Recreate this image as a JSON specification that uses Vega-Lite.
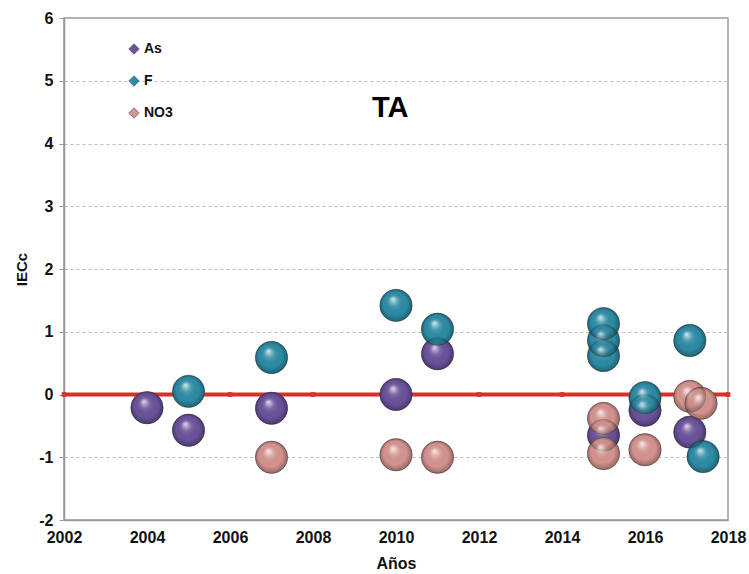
{
  "$schema": "https://vega.github.io/schema/vega-lite/v6.json",
  "width": 664,
  "height": 502,
  "autosize": {"type": "none"},
  "padding": {"left": 64, "top": 18, "right": 21, "bottom": 54},
  "background": "white",
  "config": {
    "view": {"stroke": "#999999", "strokeWidth": 1.5},
    "font": "Liberation Sans"
  },
  "datasets": {
    "pts": [
      {"year": 2004, "value": -0.21, "param": "As"},
      {"year": 2005, "value": -0.57, "param": "As"},
      {"year": 2007, "value": -0.22, "param": "As"},
      {"year": 2010, "value": 0.0, "param": "As"},
      {"year": 2011, "value": 0.65, "param": "As"},
      {"year": 2015, "value": -0.65, "param": "As"},
      {"year": 2016, "value": -0.25, "param": "As"},
      {"year": 2017.08, "value": -0.6, "param": "As"},
      {"year": 2005, "value": 0.05, "param": "F"},
      {"year": 2007, "value": 0.59, "param": "F"},
      {"year": 2010, "value": 1.42, "param": "F"},
      {"year": 2011, "value": 1.04, "param": "F"},
      {"year": 2015, "value": 0.62, "param": "F"},
      {"year": 2015, "value": 0.86, "param": "F"},
      {"year": 2015, "value": 1.13, "param": "F"},
      {"year": 2016, "value": -0.05, "param": "F"},
      {"year": 2017.08, "value": 0.86, "param": "F"},
      {"year": 2017.4, "value": -0.99, "param": "F"},
      {"year": 2007, "value": -1.0, "param": "NO3"},
      {"year": 2010, "value": -0.96, "param": "NO3"},
      {"year": 2011, "value": -1.0, "param": "NO3"},
      {"year": 2015, "value": -0.94, "param": "NO3"},
      {"year": 2015, "value": -0.38, "param": "NO3"},
      {"year": 2016, "value": -0.88, "param": "NO3"},
      {"year": 2017.08, "value": -0.03, "param": "NO3"},
      {"year": 2017.35, "value": -0.14, "param": "NO3"}
    ],
    "ref": [
      {"year": 2002, "value": 0},
      {"year": 2004, "value": 0},
      {"year": 2006, "value": 0},
      {"year": 2008, "value": 0},
      {"year": 2010, "value": 0},
      {"year": 2012, "value": 0},
      {"year": 2014, "value": 0},
      {"year": 2016, "value": 0},
      {"year": 2018, "value": 0}
    ],
    "title": [{"year": 2009.86, "value": 4.56, "label": "TA"}]
  },
  "layer": [
    {
      "data": {"name": "ref"},
      "mark": {"type": "line", "color": "#d8312a", "strokeWidth": 4, "clip": false},
      "encoding": {
        "x": {"field": "year", "type": "quantitative", "scale": {"domain": [2002, 2018], "nice": false, "zero": false},
          "axis": {"values": [2002, 2004, 2006, 2008, 2010, 2012, 2014, 2016, 2018], "format": "d", "title": "Años",
            "grid": false, "ticks": false, "domainColor": "#999999", "domainWidth": 1.5, "labelFlush": false, "labelOverlap": false,
            "labelFont": "Liberation Sans Narrow, Liberation Sans", "labelFontWeight": "bold", "labelFontSize": 16, "labelColor": "#111111", "labelPadding": 9,
            "titleFont": "Liberation Sans Narrow, Liberation Sans", "titleFontWeight": "bold", "titleFontSize": 16, "titleColor": "#111111", "titlePadding": 10}},
        "y": {"field": "value", "type": "quantitative", "scale": {"domain": [-2, 6], "nice": false},
          "axis": {"values": [-2, -1, 0, 1, 2, 3, 4, 5, 6], "labelExpr": "datum.value < 0 ? '-' + abs(datum.value) : '' + datum.value", "title": "IECc",
            "grid": true, "gridDash": [3, 3], "gridColor": "#bbbbbb", "gridWidth": 1,
            "tickColor": "#999999", "tickSize": 5, "domainColor": "#999999", "domainWidth": 1.5, "labelFlush": false, "labelOverlap": false,
            "labelFont": "Liberation Sans", "labelFontWeight": "bold", "labelFontSize": 16, "labelColor": "#111111", "labelPadding": 6,
            "titleFont": "Liberation Sans", "titleFontWeight": "bold", "titleFontSize": 15, "titleColor": "#111111", "titlePadding": 9}}
      }
    },
    {
      "data": {"name": "ref"},
      "mark": {"type": "point", "shape": "square", "filled": true, "size": 22, "color": "#d8312a", "opacity": 1, "clip": false},
      "encoding": {
        "x": {"field": "year", "type": "quantitative"},
        "y": {"field": "value", "type": "quantitative"}
      }
    },
    {
      "data": {"name": "pts"},
      "mark": {"type": "point", "filled": true, "size": 1050, "opacity": 1, "stroke": "#333333", "strokeWidth": 1, "strokeOpacity": 0.45},
      "encoding": {
        "x": {"field": "year", "type": "quantitative"},
        "y": {"field": "value", "type": "quantitative"},
        "color": {"field": "param", "type": "nominal",
          "scale": {"domain": ["As", "F", "NO3"], "range": ["#6b529b", "#2d8ca6", "#d6948f"]},
          "legend": {"title": null, "orient": "none", "legendX": 63, "legendY": 24, "symbolType": "diamond", "symbolSize": 110,
            "symbolStrokeWidth": 0.5, "labelFont": "Liberation Sans", "labelFontWeight": "bold", "labelFontSize": 14, "labelColor": "#111111",
            "rowPadding": 18, "labelOffset": 3}}
      }
    },
    {
      "data": {"name": "pts"},
      "mark": {"type": "point", "filled": true, "size": 1050, "opacity": 1, "strokeWidth": 0,
        "fill": {"gradient": "radial", "x1": 0.4, "y1": 0.3, "r1": 0, "x2": 0.5, "y2": 0.5, "r2": 0.5,
          "stops": [
            {"offset": 0, "color": "rgba(255,255,255,0.8)"},
            {"offset": 0.3, "color": "rgba(255,255,255,0.15)"},
            {"offset": 0.7, "color": "rgba(0,0,0,0)"},
            {"offset": 1, "color": "rgba(0,0,0,0.3)"}
          ]}},
      "encoding": {
        "x": {"field": "year", "type": "quantitative"},
        "y": {"field": "value", "type": "quantitative"}
      }
    },
    {
      "data": {"name": "title"},
      "mark": {"type": "text", "font": "Liberation Sans", "fontWeight": "bold", "fontSize": 29, "color": "#000000"},
      "encoding": {
        "x": {"field": "year", "type": "quantitative"},
        "y": {"field": "value", "type": "quantitative"},
        "text": {"field": "label"}
      }
    }
  ]
}
